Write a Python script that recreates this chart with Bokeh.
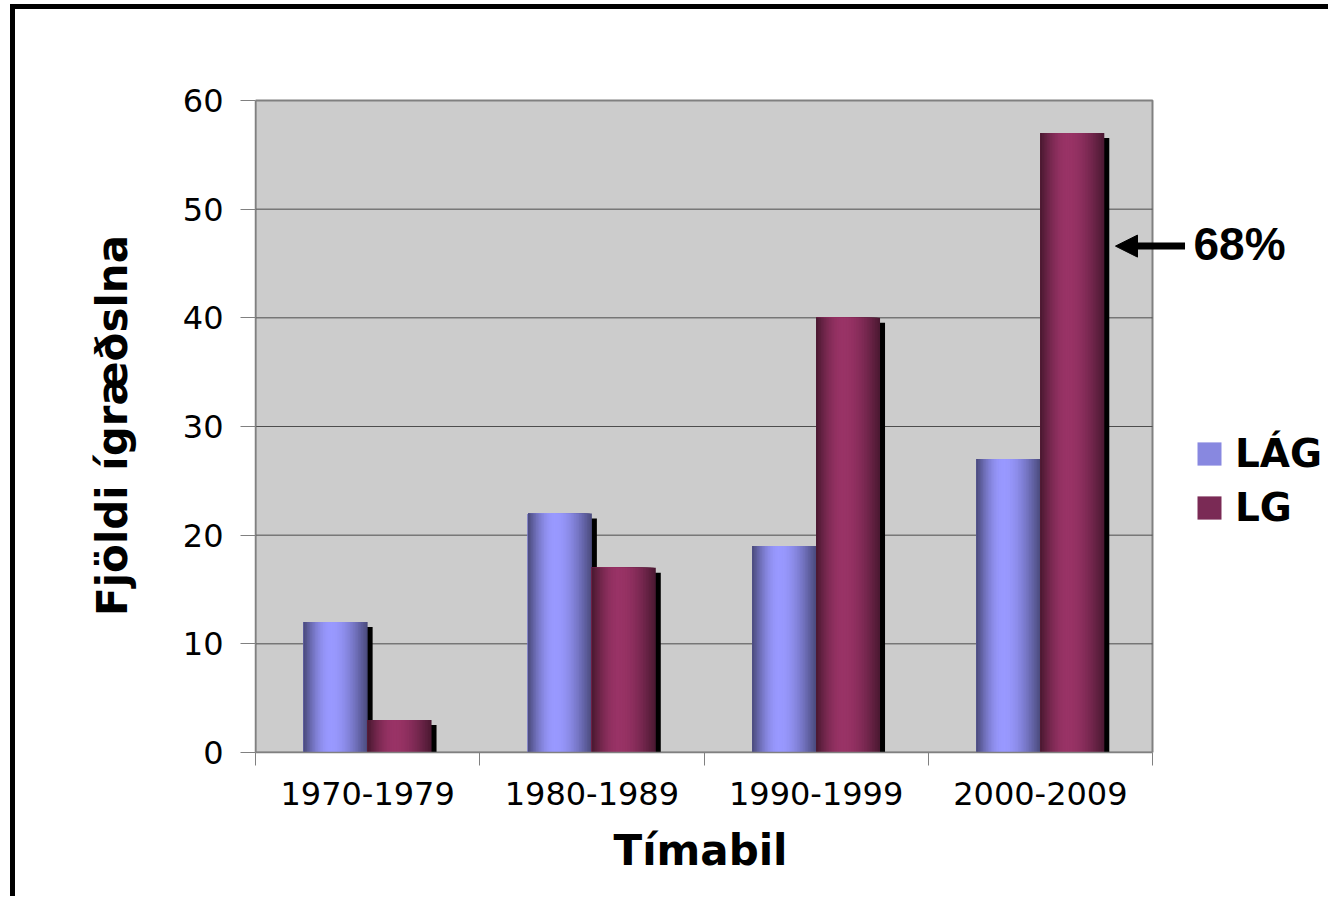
import numpy as np
from bokeh.plotting import figure
from bokeh.models import (Range1d, FixedTicker, ColumnDataSource, Legend, LegendItem,
                          Label, Arrow, NormalHead, Title)
from bokeh.embed import file_html
from bokeh.resources import INLINE

# ---- data ----
periods = ["1970-1979", "1980-1989", "1990-1999", "2000-2009"]
lag = [12, 22, 19, 27]
lg = [3, 17, 40, 57]
series_names = ["LÁG", "LG"]
y_ticks = [0, 10, 20, 30, 40, 50, 60]
annotation_text = "68%"
x_title = "Tímabil"
y_title = "Fjöldi ígræðslna"

# ---- layout ----
W, H = 1318, 892
FL = 240            # frame left (canvas px)
PW, PH = 897, 652   # size (px) of the grey chart region
n = len(periods)
ymax = y_ticks[-1]
px_x = PW / n
px_y = PH / ymax
FW = W - FL - 3
x_end = FW / px_x
y_end = ymax + 2 / px_y
FH = PH + 2
FT = 89

p = figure(width=W, height=H, output_backend="svg", toolbar_location=None,
           x_range=Range1d(0, x_end), y_range=Range1d(0, y_end),
           min_border_left=FL, min_border_right=W - FL - FW,
           min_border_top=FT, min_border_bottom=H - FT - FH)
p.styles = {"border-left": "5px solid black", "border-top": "5px solid black",
            "margin-left": "10px", "margin-top": "4px"}
p.background_fill_color = "white"
p.border_fill_color = "white"
p.outline_line_color = None

# grey plot area
p.quad(left=0, right=n, bottom=0, top=ymax, fill_color="#CCCCCC",
       line_color="#808080", line_width=2, level="image")

# horizontal grid lines limited to the grey area
grid_y = y_ticks[1:-1]
p.segment(x0=[0] * len(grid_y), x1=[n] * len(grid_y), y0=grid_y, y1=grid_y,
          line_color="#4d4d4d", line_width=1)

bar_w = 0.285
offsets = [-0.1425, 0.1425]
base_colors = [(153, 153, 255), (153, 51, 102)]
values = [lag, lg]
centers = [i + 0.5 for i in range(n)]

# shadows
dx = 5 / px_x
dy = 5 / px_y
for vals, off in zip(values, offsets):
    p.vbar(x=[c + off + dx for c in centers], top=[v - dy for v in vals], bottom=0,
           width=bar_w, fill_color="black", line_color=None)

def shade(t, t0=0.42, lo=0.48):
    d = t0 if t < t0 else 1 - t0
    u = (t - t0) / d
    return lo + (1 - lo) * np.cos(u * np.pi / 2)

N = 40
def hexcol(rgb, f):
    r, g, b = [int(max(0, min(255, round(c * f)))) for c in rgb]
    return "#%02x%02x%02x" % (r, g, b)

for vals, off, rgb in zip(values, offsets, base_colors):
    xs, ws, tops, cols = [], [], [], []
    for k in range(N - 1, -1, -1):
        frac = (k + 1) / N
        f = shade((k + 0.5) / N)
        for c, v in zip(centers, vals):
            left = c + off - bar_w / 2
            xs.append(left + bar_w * frac / 2)
            ws.append(bar_w * frac)
            tops.append(v)
            cols.append(hexcol(rgb, f))
    src = ColumnDataSource(dict(x=xs, w=ws, top=tops, color=cols))
    p.vbar(x="x", width="w", top="top", bottom=0, fill_color="color", line_color=None, source=src)

# ---- axes ----
p.xaxis.ticker = FixedTicker(ticks=centers, minor_ticks=list(range(n + 1)))
p.xaxis.bounds = (0, n)
p.xaxis.major_label_overrides = {c: lab for c, lab in zip(centers, periods)}
p.xaxis.major_tick_line_color = None
p.xaxis.minor_tick_out = 13
p.xaxis.minor_tick_in = 0
p.xaxis.minor_tick_line_color = "#808080"
p.xaxis.axis_line_color = "#808080"
p.xaxis.axis_line_width = 1.5
p.xaxis.major_label_standoff = 16

p.yaxis.ticker = FixedTicker(ticks=y_ticks)
p.yaxis.bounds = (0, ymax)
p.yaxis.major_tick_out = 15
p.yaxis.major_tick_in = 0
p.yaxis.minor_tick_line_color = None
p.yaxis.major_tick_line_color = "#808080"
p.yaxis.axis_line_color = "#808080"
p.yaxis.axis_line_width = 1.5
p.yaxis.major_label_standoff = 17
p.yaxis.axis_label = y_title
p.yaxis.axis_label_standoff = 43

for ax in (p.xaxis[0], p.yaxis[0]):
    ax.major_label_text_font = "DejaVu Sans"
    ax.major_label_text_font_size = "32px"
    ax.major_label_text_color = "black"
    ax.axis_label_text_font = "DejaVu Sans"
    ax.axis_label_text_font_size = "42px"
    ax.axis_label_text_font_style = "bold"
    ax.axis_label_text_color = "black"

p.xgrid.visible = False
p.ygrid.visible = False

# x-axis title, centred under the grey area
p.add_layout(Title(text=x_title, align="left", offset=358, standoff=33,
                   text_font="DejaVu Sans", text_font_size="42px",
                   text_font_style="bold", text_color="black"), "below")

# ---- legend ----
leg_cols = ["#8888e0", "#7a2a55"]
items = []
for name, col in zip(series_names, leg_cols):
    r = p.vbar(x=[float("nan")], top=[float("nan")], width=0.1, fill_color=col, line_color=None)
    items.append(LegendItem(label=name, renderers=[r]))
legend = Legend(items=items, location=(939, 222), padding=0, margin=0, spacing=9,
                glyph_width=30, glyph_height=29, label_standoff=11, label_height=23,
                label_text_font="DejaVu Sans", label_text_font_size="39px",
                label_text_font_style="bold", label_text_color="black",
                border_line_color=None, background_fill_alpha=0)
p.add_layout(legend, "center")

# ---- annotation ----
p.add_layout(Arrow(end=NormalHead(size=22, fill_color="black", line_color="black"),
                   x_start=4.145, y_start=46.6, x_end=3.835, y_end=46.6,
                   line_width=7, line_color="black"))
p.add_layout(Label(x=4.183, y=46.83, text=annotation_text, text_font="Liberation Sans",
                   text_font_size="46px", text_font_style="bold", text_color="black",
                   text_baseline="alphabetic"))

open("out.html", "w").write(file_html(p, INLINE))
